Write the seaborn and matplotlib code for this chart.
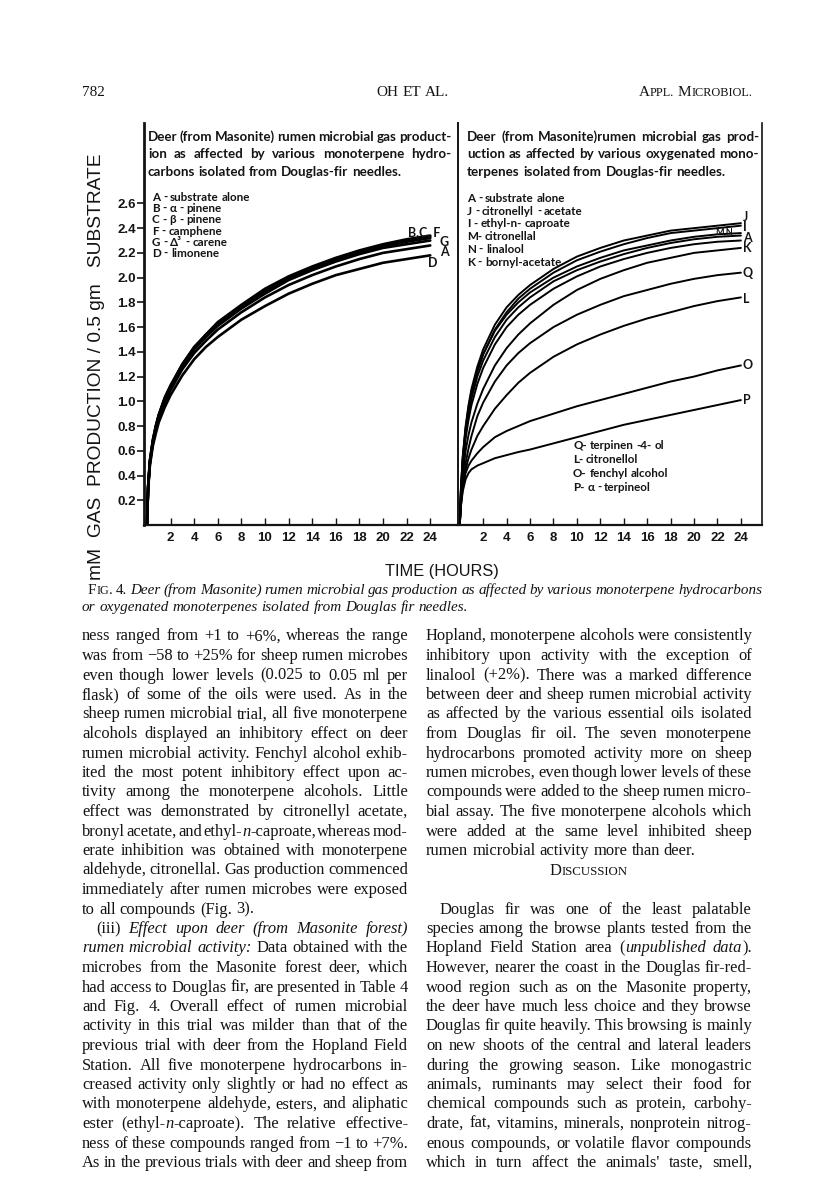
import numpy as np
import pandas as pd
import seaborn as sns
import matplotlib
matplotlib.use("Agg")
import matplotlib.pyplot as plt
from matplotlib.font_manager import FontProperties

# ---------------- data ----------------
hours = [0, 0.1, 0.25, 0.5, 0.75, 1, 1.5, 2, 3, 4, 5, 6, 8, 10, 12, 14, 16, 18, 20, 22, 24]

left_A = [0, 0.30, 0.50, 0.66, 0.77, 0.86, 0.99, 1.09, 1.26, 1.39, 1.49, 1.58, 1.72, 1.84, 1.94, 2.02, 2.09, 2.15, 2.20, 2.23, 2.26]
left_B = [0, 0.31, 0.52, 0.69, 0.80, 0.89, 1.03, 1.13, 1.30, 1.44, 1.54, 1.64, 1.78, 1.91, 2.01, 2.09, 2.16, 2.22, 2.27, 2.31, 2.34]
left_C = [0, 0.31, 0.52, 0.68, 0.80, 0.89, 1.02, 1.12, 1.30, 1.43, 1.54, 1.63, 1.77, 1.90, 2.00, 2.08, 2.15, 2.21, 2.26, 2.30, 2.33]
left_F = [0, 0.31, 0.51, 0.68, 0.79, 0.88, 1.02, 1.12, 1.29, 1.43, 1.53, 1.62, 1.77, 1.89, 1.99, 2.07, 2.15, 2.20, 2.25, 2.29, 2.32]
left_G = [0, 0.31, 0.51, 0.67, 0.78, 0.88, 1.01, 1.11, 1.28, 1.42, 1.52, 1.61, 1.75, 1.87, 1.98, 2.06, 2.13, 2.19, 2.24, 2.27, 2.30]
left_D = [0, 0.29, 0.48, 0.64, 0.74, 0.83, 0.95, 1.05, 1.21, 1.34, 1.44, 1.52, 1.66, 1.77, 1.87, 1.95, 2.02, 2.07, 2.12, 2.15, 2.18]

right_J = [0, 0.30, 0.55, 0.80, 0.97, 1.10, 1.28, 1.42, 1.62, 1.76, 1.86, 1.94, 2.07, 2.17, 2.24, 2.30, 2.34, 2.38, 2.40, 2.42, 2.44]
right_I = [0, 0.28, 0.52, 0.77, 0.93, 1.06, 1.24, 1.38, 1.58, 1.72, 1.83, 1.91, 2.04, 2.14, 2.21, 2.27, 2.32, 2.36, 2.38, 2.40, 2.42]
right_M = [0, 0.29, 0.54, 0.78, 0.95, 1.08, 1.25, 1.38, 1.57, 1.70, 1.80, 1.88, 2.00, 2.09, 2.16, 2.22, 2.26, 2.30, 2.33, 2.35, 2.36]
right_N = [0, 0.27, 0.50, 0.74, 0.90, 1.02, 1.20, 1.33, 1.52, 1.66, 1.76, 1.84, 1.97, 2.06, 2.13, 2.19, 2.24, 2.28, 2.31, 2.33, 2.34]
right_A = [0, 0.25, 0.47, 0.70, 0.85, 0.97, 1.14, 1.27, 1.46, 1.60, 1.70, 1.78, 1.91, 2.01, 2.09, 2.15, 2.20, 2.24, 2.27, 2.29, 2.30]
right_K = [0, 0.20, 0.40, 0.60, 0.73, 0.83, 0.98, 1.10, 1.29, 1.43, 1.54, 1.63, 1.78, 1.90, 1.99, 2.06, 2.12, 2.16, 2.20, 2.22, 2.24]
right_Q = [0, 0.18, 0.33, 0.50, 0.62, 0.72, 0.88, 0.99, 1.16, 1.29, 1.39, 1.47, 1.60, 1.70, 1.78, 1.85, 1.90, 1.95, 1.99, 2.02, 2.04]
right_L = [0, 0.16, 0.29, 0.45, 0.54, 0.61, 0.72, 0.80, 0.94, 1.05, 1.15, 1.23, 1.36, 1.46, 1.54, 1.61, 1.67, 1.72, 1.77, 1.81, 1.84]
right_O = [0, 0.18, 0.31, 0.42, 0.48, 0.52, 0.58, 0.63, 0.71, 0.76, 0.80, 0.84, 0.90, 0.96, 1.01, 1.06, 1.11, 1.16, 1.20, 1.25, 1.29]
right_P = [0, 0.15, 0.27, 0.37, 0.42, 0.45, 0.48, 0.50, 0.54, 0.565, 0.59, 0.61, 0.66, 0.71, 0.76, 0.81, 0.85, 0.89, 0.93, 0.97, 1.01]

left_series = {"A": left_A, "B": left_B, "C": left_C, "F": left_F, "G": left_G, "D": left_D}
right_series = {"J": right_J, "I": right_I, "M": right_M, "N": right_N, "A": right_A,
                "K": right_K, "Q": right_Q, "L": right_L, "O": right_O, "P": right_P}

y_ticks = [0.2, 0.4, 0.6, 0.8, 1.0, 1.2, 1.4, 1.6, 1.8, 2.0, 2.2, 2.4, 2.6]
x_ticks = [2, 4, 6, 8, 10, 12, 14, 16, 18, 20, 22, 24]

left_title = ["Deer (from Masonite) rumen  microbial gas product-",
              "ion as  affected by various monoterpene hydro-",
              "carbons isolated from Douglas-fir needles."]
right_title = ["Deer (from Masonite)rumen  microbial gas prod-",
               "uction as affected by various oxygenated mono-",
               "terpenes isolated from Douglas-fir needles."]
left_legend = ["A - substrate  alone", "B - α - pinene", "C - β - pinene",
               "F - camphene", "G - Δ³ - carene", "D - limonene"]
right_legend = ["A - substrate   alone", "J - citronellyl - acetate", "I - ethyl-n- caproate",
                "M- citronellal", "N - linalool", "K - bornyl-acetate"]
right_legend2 = ["Q- terpinen -4- ol", "L- citronellol", "O- fenchyl  alcohol", "P- α - terpineol"]

caption = ["F^IG^. 4. _Deer (from Masonite) rumen microbial gas production as affected by various monoterpene hydrocarbons_",
           "_or oxygenated monoterpenes isolated from Douglas fir needles._"]

left_col = [
    "ness ranged from +1 to +6%, whereas the range",
    "was from −58 to +25% for sheep rumen microbes",
    "even though lower levels (0.025 to 0.05 ml per",
    "flask) of some of the oils were used. As in the",
    "sheep rumen microbial trial, all five monoterpene",
    "alcohols displayed an inhibitory effect on deer",
    "rumen microbial activity. Fenchyl alcohol exhib-",
    "ited the most potent inhibitory effect upon ac-",
    "tivity among the monoterpene alcohols. Little",
    "effect was demonstrated by citronellyl acetate,",
    "bronyl acetate, and ethyl-_n_-caproate, whereas mod-",
    "erate inhibition was obtained with monoterpene",
    "aldehyde, citronellal. Gas production commenced",
    "immediately after rumen microbes were exposed",
    "to all compounds (Fig. 3).",
    "(iii) _Effect upon deer (from Masonite forest)_",
    "_rumen microbial activity:_ Data obtained with the",
    "microbes from the Masonite forest deer, which",
    "had access to Douglas fir, are presented in Table 4",
    "and Fig. 4. Overall effect of rumen microbial",
    "activity in this trial was milder than that of the",
    "previous trial with deer from the Hopland Field",
    "Station. All five monoterpene hydrocarbons in-",
    "creased activity only slightly or had no effect as",
    "with monoterpene aldehyde, esters, and aliphatic",
    "ester (ethyl-_n_-caproate). The relative effective-",
    "ness of these compounds ranged from −1 to +7%.",
    "As in the previous trials with deer and sheep from",
]
left_last = {14}
left_indent = {15}

right_col = [
    "Hopland, monoterpene alcohols were consistently",
    "inhibitory upon activity with the exception of",
    "linalool (+2%). There was a marked difference",
    "between deer and sheep rumen microbial activity",
    "as affected by the various essential oils isolated",
    "from Douglas fir oil. The seven monoterpene",
    "hydrocarbons promoted activity more on sheep",
    "rumen microbes, even though lower levels of these",
    "compounds were added to the sheep rumen micro-",
    "bial assay. The five monoterpene alcohols which",
    "were added at the same level inhibited sheep",
    "rumen microbial activity more than deer.",
    None,
    None,
    "Douglas fir was one of the least palatable",
    "species among the browse plants tested from the",
    "Hopland Field Station area (_unpublished data_).",
    "However, nearer the coast in the Douglas fir-red-",
    "wood region such as on the Masonite property,",
    "the deer have much less choice and they browse",
    "Douglas fir quite heavily. This browsing is mainly",
    "on new shoots of the central and lateral leaders",
    "during the growing season. Like monogastric",
    "animals, ruminants may select their food for",
    "chemical compounds such as protein, carbohy-",
    "drate, fat, vitamins, minerals, nonprotein nitrog-",
    "enous compounds, or volatile flavor compounds",
    "which in turn affect the animals' taste, smell,",
]
right_last = {11}
right_indent = {14}

# ---------------- figure ----------------
sns.set_theme(style="white")
plt.rcParams["font.family"] = ["DejaVu Sans"]
W, H = 816, 1183
fig = plt.figure(figsize=(W / 100, H / 100), dpi=100)
INK = "#141414"
SANS = ["Lato", "DejaVu Sans"]


def frame(df_dict):
    rows = []
    for name, vals in df_dict.items():
        for t, v in zip(hours, vals):
            rows.append({"hour": t, "gas": v, "series": name})
    return pd.DataFrame(rows)


dfL = frame(left_series)
dfR = frame(right_series)

top_px, bot_px = 123, 525
axL = fig.add_axes([144 / W, 1 - bot_px / H, 314 / W, (bot_px - top_px) / H])
axR = fig.add_axes([458 / W, 1 - bot_px / H, 304 / W, (bot_px - top_px) / H])

sns.lineplot(data=dfL, x="hour", y="gas", units="series", estimator=None,
             color="black", lw=1.9, ax=axL, legend=False)
sns.lineplot(data=dfR, x="hour", y="gas", units="series", estimator=None,
             color="black", lw=1.4, ax=axR, legend=False)

for ax in (axL, axR):
    ax.set_ylim(0, 3.25)
    ax.set_xlabel("")
    ax.set_ylabel("")
    ax.set_facecolor("none")
    ax.spines["top"].set_visible(False)
    ax.spines["bottom"].set_linewidth(1.6)
    ax.spines["bottom"].set_color(INK)
    ax.set_xticks(x_ticks, labels=[str(v) for v in x_ticks], fontsize=9.5,
                  fontfamily="Liberation Sans", fontweight="bold", color=INK)
    ax.tick_params(axis="x", direction="in", length=5, width=1, pad=5, colors=INK, bottom=True)
    ax.grid(False)

axL.set_xlim(-0.25, 26.35)
axR.set_xlim(-0.15, 25.8)
axL.spines["right"].set_visible(False)
axL.spines["left"].set_linewidth(2.0)
axL.spines["left"].set_color(INK)
axL.set_yticks(y_ticks, labels=["%.1f" % v for v in y_ticks], fontsize=9.5,
               fontfamily="Liberation Sans", fontweight="bold", color=INK)
axL.tick_params(axis="y", direction="out", length=5, width=1.2, pad=1, colors=INK, left=True)
axR.spines["left"].set_linewidth(1.4)
axR.spines["right"].set_linewidth(1.2)
axR.spines["left"].set_color(INK)
axR.spines["right"].set_color(INK)
axR.set_yticks([])

# curve end labels
lab_kw = dict(fontsize=9, fontweight="bold", family=SANS, color=INK, va="center")
axL.text(24.85, 2.37, "B,C, F", ha="right", **lab_kw)
axL.text(25.2, 2.29, "G", ha="center", **lab_kw)
axL.text(25.2, 2.21, "A", ha="center", **lab_kw)
axL.text(24.2, 2.12, "D", ha="center", **lab_kw)
for lab, yv in [("J", 2.49), ("I", 2.41), ("A", 2.32), ("K", 2.24), ("Q", 2.04),
                ("L", 1.83), ("O", 1.29), ("P", 1.01)]:
    axR.text(24.15, yv, lab, ha="left", **lab_kw)
axR.text(22.6, 2.37, "M,N", ha="center", fontsize=6.5, fontweight="bold", family=SANS,
         color=INK, va="center")

# ---------------- text helpers ----------------
renderer = fig.canvas.get_renderer()


def tw(s, fp):
    w, h, d = renderer.get_text_width_height_descent(s, fp, ismath=False)
    return w


def parse(line):
    words, cur, buf = [], [], ""
    it, sm = False, False
    for ch in line:
        if ch in "_^":
            if buf:
                cur.append((buf, it, sm))
                buf = ""
            if ch == "_":
                it = not it
            else:
                sm = not sm
        elif ch == " ":
            if buf:
                cur.append((buf, it, sm))
                buf = ""
            if cur:
                words.append(cur)
                cur = []
        else:
            buf += ch
    if buf:
        cur.append((buf, it, sm))
    if cur:
        words.append(cur)
    return words


def draw_line(text, x0, x1, yb, size, family, align="left", weight="normal", small=0.78):
    words = parse(text)

    def fp(i, s):
        return FontProperties(family=family, style="italic" if i else "normal",
                              weight=weight, size=size * (small if s else 1))

    widths = [sum(tw(s, fp(i, m)) for s, i, m in w) for w in words]
    base = fp(False, False)
    sp = tw("n n", base) - tw("nn", base)
    total = sum(widths) + sp * (len(words) - 1)
    if align == "justify" and len(words) > 1:
        gap = (x1 - x0 - sum(widths)) / (len(words) - 1)
        x = x0
    else:
        gap = sp
        if align == "left":
            x = x0
        elif align == "right":
            x = x1 - total
        else:
            x = (x0 + x1) / 2 - total / 2
    for w, wd in zip(words, widths):
        xx = x
        for s, i, m in w:
            f = fp(i, m)
            fig.text(xx / W, 1 - yb / H, s, fontproperties=f, ha="left", va="baseline", color=INK)
            xx += tw(s, f)
        x += wd + gap


# panel titles and legends
for k, line in enumerate(left_title):
    draw_line(line, 148, 451, 141 + 17.5 * k, 9.6, SANS, align="justify" if k < 2 else "left", weight="bold")
for k, line in enumerate(right_title):
    draw_line(line, 467, 759, 141 + 17.5 * k, 9.6, SANS, align="justify" if k < 2 else "left", weight="bold")
for k, line in enumerate(left_legend):
    draw_line(line, 152, 400, 201 + 11.2 * k, 8.4, SANS, weight="bold")
for k, line in enumerate(right_legend):
    draw_line(line, 467, 700, 202 + 12.7 * k, 8.4, SANS, weight="bold")
for k, line in enumerate(right_legend2):
    draw_line(line, 573, 760, 449 + 14 * k, 8.4, SANS, weight="bold")

# axis titles
fig.text(97 / W, 1 - 367 / H, "mM  GAS  PRODUCTION / 0.5 gm   SUBSTRATE", rotation=90,
         ha="center", va="center", fontsize=13.8, family="Liberation Sans", color=INK)
fig.text(442 / W, 1 - 576 / H, "TIME (HOURS)", ha="center", va="baseline",
         fontsize=11.8, family="Liberation Sans", color=INK)

# page header
SERIF = ["Liberation Serif", "DejaVu Serif"]
draw_line("782", 82, 300, 96, 11, SERIF)
draw_line("OH ET AL.", 300, 526, 96, 11, SERIF, align="center")
draw_line("A^PPL.^ M^ICROBIOL.^", 500, 752, 96, 11, SERIF, align="right", small=0.8)

# caption
draw_line(caption[0], 88, 762, 594, 10.9, SERIF, align="justify", small=0.8)
draw_line(caption[1], 82, 762, 611, 10.9, SERIF, align="left")

# body text
BODY = 11.9
for k, line in enumerate(left_col):
    yb = 640.5 + 19.5 * k
    x0 = 82 + (14 if k in left_indent else 0)
    draw_line(line, x0, 408, yb, BODY, SERIF, align="left" if k in left_last else "justify")
for k, line in enumerate(right_col):
    if line is None:
        continue
    yb = 640.5 + 19.5 * k
    x0 = 426 + (14 if k in right_indent else 0)
    draw_line(line, x0, 752, yb, BODY, SERIF, align="left" if k in right_last else "justify")
draw_line("D^ISCUSSION^", 426, 752, 875, BODY, SERIF, align="center", small=0.78)

fig.savefig("out.png", dpi=100, facecolor="white")
